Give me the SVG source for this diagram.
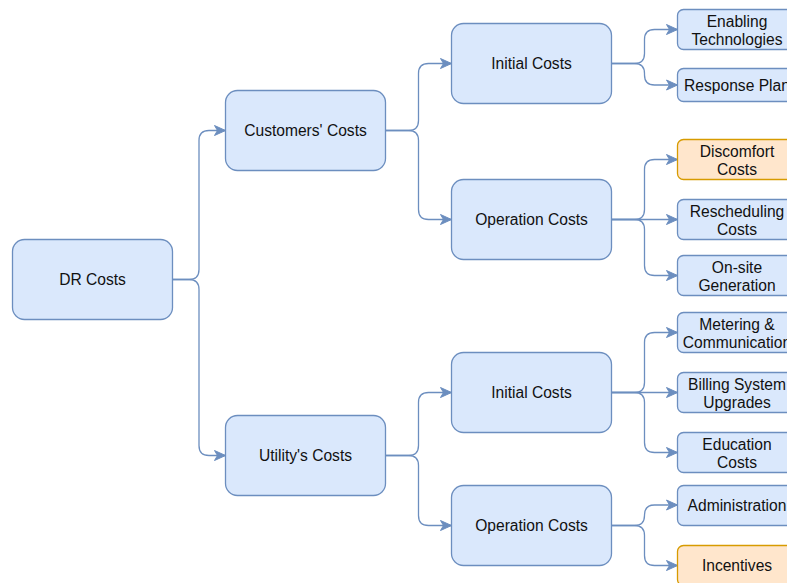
<svg xmlns="http://www.w3.org/2000/svg" width="787" height="583" viewBox="0 0 787 583">
  <style>
    .box { fill: #dae8fc; stroke: #6c8ebf; stroke-width: 1.3; }
    .warm { fill: #ffe6cc; stroke: #d79b00; stroke-width: 1.3; }
    .lbl { font-family: "Liberation Sans", Arial, Helvetica, sans-serif; font-size: 15.6px; fill: #111; text-anchor: middle; }
    .edge { fill: none; stroke: #6c8ebf; stroke-width: 1.3; marker-end: url(#arrow); }
  </style>
  <defs>
    <marker id="arrow" markerUnits="userSpaceOnUse" viewBox="-12 -6 13 12" refX="0" refY="0" markerWidth="13" markerHeight="12" orient="auto">
      <path d="M0,0 L-11,-5 L-8,0 L-11,5 Z" fill="#6c8ebf" stroke="#6c8ebf" stroke-width="1" stroke-linejoin="miter"/>
    </marker>
  </defs>
  <rect width="787" height="583" fill="#ffffff"/>

  <!-- connectors: orthogonal elbows with rounded bends -->
  <g id="connectors">
    <path class="edge" d="M172.5,279.5 H189 Q199,279.5 199,269.5 V140.5 Q199,130.5 209,130.5 H225.5"/>
    <path class="edge" d="M172.5,279.5 H189 Q199,279.5 199,289.5 V445.5 Q199,455.5 209,455.5 H225.5"/>

    <path class="edge" d="M385.5,130.5 H408.5 Q418.5,130.5 418.5,120.5 V73.5 Q418.5,63.5 428.5,63.5 H451.5"/>
    <path class="edge" d="M385.5,130.5 H408.5 Q418.5,130.5 418.5,140.5 V209.5 Q418.5,219.5 428.5,219.5 H451.5"/>
    <path class="edge" d="M385.5,455.5 H408.5 Q418.5,455.5 418.5,445.5 V402.5 Q418.5,392.5 428.5,392.5 H451.5"/>
    <path class="edge" d="M385.5,455.5 H408.5 Q418.5,455.5 418.5,465.5 V515.5 Q418.5,525.5 428.5,525.5 H451.5"/>

    <path class="edge" d="M611.5,63.5 H634.5 Q644.5,63.5 644.5,53.5 V39.5 Q644.5,29.5 654.5,29.5 H677.5"/>
    <path class="edge" d="M611.5,63.5 H634.5 Q644.5,63.5 644.5,73.5 V75 Q644.5,85 654.5,85 H677.5"/>

    <path class="edge" d="M611.5,219.5 H634.5 Q644.5,219.5 644.5,209.5 V169.5 Q644.5,159.5 654.5,159.5 H677.5"/>
    <path class="edge" d="M611.5,219.5 H677.5"/>
    <path class="edge" d="M611.5,219.5 H634.5 Q644.5,219.5 644.5,229.5 V265.5 Q644.5,275.5 654.5,275.5 H677.5"/>

    <path class="edge" d="M611.5,392.5 H634.5 Q644.5,392.5 644.5,382.5 V342.5 Q644.5,332.5 654.5,332.5 H677.5"/>
    <path class="edge" d="M611.5,392.5 H677.5"/>
    <path class="edge" d="M611.5,392.5 H634.5 Q644.5,392.5 644.5,402.5 V442.5 Q644.5,452.5 654.5,452.5 H677.5"/>

    <path class="edge" d="M611.5,525.5 H634.5 Q644.5,525.5 644.5,515.5 V515 Q644.5,505 654.5,505 H677.5"/>
    <path class="edge" d="M611.5,525.5 H634.5 Q644.5,525.5 644.5,535.5 V555.5 Q644.5,565.5 654.5,565.5 H677.5"/>
  </g>

  <!-- root -->
  <g id="dr-costs">
    <rect class="box" x="12.5" y="239.5" width="160" height="80" rx="12"/>
    <text class="lbl" x="92.5" y="285">DR Costs</text>
  </g>

  <!-- second level -->
  <g id="customers-costs">
    <rect class="box" x="225.5" y="90.5" width="160" height="80" rx="12"/>
    <text class="lbl" x="305.5" y="136">Customers' Costs</text>
  </g>
  <g id="utility-costs">
    <rect class="box" x="225.5" y="415.5" width="160" height="80" rx="12"/>
    <text class="lbl" x="305.5" y="461">Utility's Costs</text>
  </g>

  <!-- third level -->
  <g id="customer-initial-costs">
    <rect class="box" x="451.5" y="23.5" width="160" height="80" rx="12"/>
    <text class="lbl" x="531.5" y="69">Initial Costs</text>
  </g>
  <g id="customer-operation-costs">
    <rect class="box" x="451.5" y="179.5" width="160" height="80" rx="12"/>
    <text class="lbl" x="531.5" y="225">Operation Costs</text>
  </g>
  <g id="utility-initial-costs">
    <rect class="box" x="451.5" y="352.5" width="160" height="80" rx="12"/>
    <text class="lbl" x="531.5" y="398">Initial Costs</text>
  </g>
  <g id="utility-operation-costs">
    <rect class="box" x="451.5" y="485.5" width="160" height="80" rx="12"/>
    <text class="lbl" x="531.5" y="531">Operation Costs</text>
  </g>

  <!-- leaves -->
  <g id="enabling-technologies">
    <rect class="box" x="677.5" y="9.5" width="120" height="40" rx="6"/>
    <text class="lbl" x="737" y="27">Enabling</text>
    <text class="lbl" x="737" y="45">Technologies</text>
  </g>
  <g id="response-plan">
    <rect class="box" x="677.5" y="68.5" width="120" height="33" rx="6"/>
    <text class="lbl" x="737" y="91">Response Plan</text>
  </g>
  <g id="discomfort-costs">
    <rect class="warm" x="677.5" y="139.5" width="120" height="40" rx="6"/>
    <text class="lbl" x="737" y="157">Discomfort</text>
    <text class="lbl" x="737" y="175">Costs</text>
  </g>
  <g id="rescheduling-costs">
    <rect class="box" x="677.5" y="199.5" width="120" height="40" rx="6"/>
    <text class="lbl" x="737" y="217">Rescheduling</text>
    <text class="lbl" x="737" y="235">Costs</text>
  </g>
  <g id="onsite-generation">
    <rect class="box" x="677.5" y="255.5" width="120" height="40" rx="6"/>
    <text class="lbl" x="737" y="273">On-site</text>
    <text class="lbl" x="737" y="291">Generation</text>
  </g>
  <g id="metering-communication">
    <rect class="box" x="677.5" y="312.5" width="120" height="40" rx="6"/>
    <text class="lbl" x="737" y="330">Metering &amp;</text>
    <text class="lbl" x="737" y="348">Communication</text>
  </g>
  <g id="billing-upgrades">
    <rect class="box" x="677.5" y="372.5" width="120" height="40" rx="6"/>
    <text class="lbl" x="737" y="390">Billing System</text>
    <text class="lbl" x="737" y="408">Upgrades</text>
  </g>
  <g id="education-costs">
    <rect class="box" x="677.5" y="432.5" width="120" height="40" rx="6"/>
    <text class="lbl" x="737" y="450">Education</text>
    <text class="lbl" x="737" y="468">Costs</text>
  </g>
  <g id="administration">
    <rect class="box" x="677.5" y="485.5" width="120" height="40" rx="6"/>
    <text class="lbl" x="737" y="511">Administration</text>
  </g>
  <g id="incentives">
    <rect class="warm" x="677.5" y="545.5" width="120" height="40" rx="6"/>
    <text class="lbl" x="737" y="571">Incentives</text>
  </g>
</svg>
